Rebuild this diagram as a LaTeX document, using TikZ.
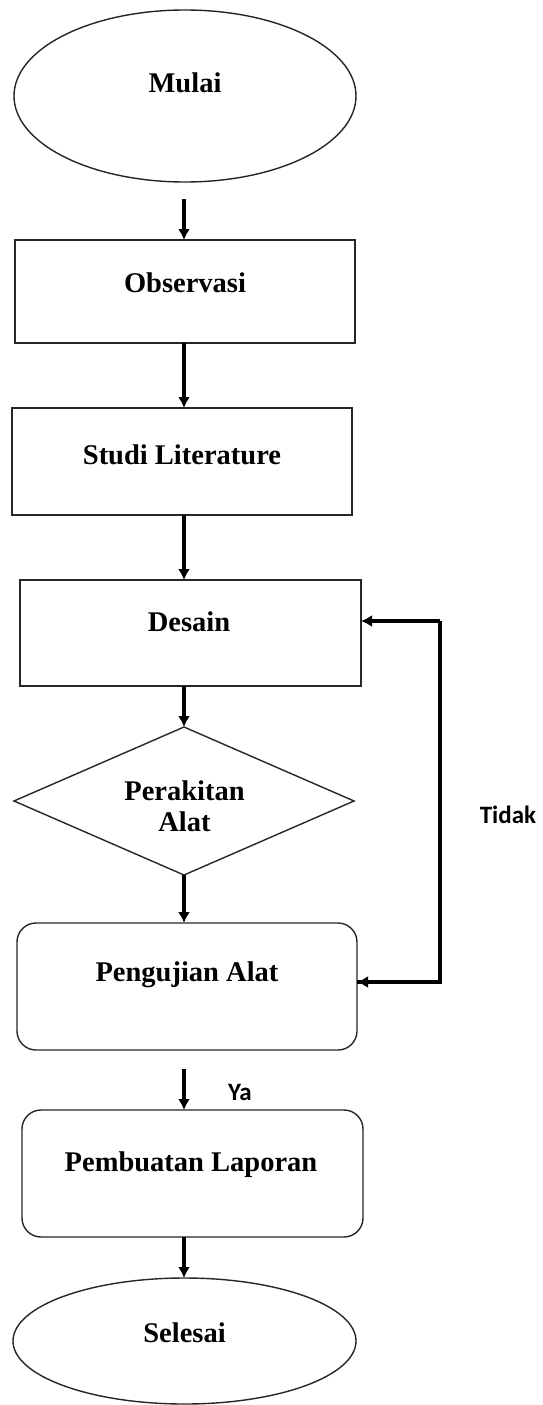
\documentclass[tikz,border=0pt]{standalone}
\usepackage{fontspec}
\setmainfont{Liberation Serif}
\newfontfamily\sansf{Carlito}
\usetikzlibrary{shapes.geometric,arrows.meta}
\begin{document}
\begin{tikzpicture}[x=1pt,y=-1pt,
  shapebox/.style={draw=black!85,line width=1.4pt,inner sep=0pt,outer sep=0pt},
  rectbox/.style={shapebox,rectangle},
  roundbox/.style={shapebox,rectangle,rounded corners=19pt},
  ellbox/.style={shapebox,ellipse},
  diabox/.style={shapebox,diamond},
  boxtext/.style={font=\fontsize{28.5}{31}\selectfont\bfseries,inner sep=0pt,align=center},
  lbl/.style={font=\sansf\fontsize{25}{28}\selectfont\bfseries,inner sep=0pt},
  flow/.style={line width=3.5pt,-{Latex[length=11pt,width=12pt]}}
]
\useasboundingbox (0,0) rectangle (543,1405);
% shapes
\node[ellbox,minimum width=342pt,minimum height=172pt] (mulai) at (185,96) {};
\node[rectbox,minimum width=340pt,minimum height=103pt] (obs) at (185,291.5) {};
\node[rectbox,minimum width=340pt,minimum height=107pt] (studi) at (182,461.5) {};
\node[rectbox,minimum width=341pt,minimum height=106pt] (desain) at (190.5,633) {};
\node[diabox,minimum width=340pt,minimum height=148pt] (rakit) at (184,801) {};
\node[roundbox,minimum width=340pt,minimum height=127pt] (uji) at (187,986.5) {};
\node[roundbox,minimum width=341pt,minimum height=127pt] (lapor) at (192.5,1173.5) {};
\node[ellbox,minimum width=343pt,minimum height=126pt] (selesai) at (184.5,1341) {};
% texts
\node[boxtext] (tmulai) at (185,83) {Mulai};
\node[boxtext] (tobs) at (185,283) {Observasi};
\node[boxtext] (tstudi) at (182,455) {Studi Literature};
\node[boxtext] (tdesain) at (189,622) {Desain};
\node[boxtext] (trakit) at (184.5,806) {Perakitan\\Alat};
\node[boxtext] (tuji) at (187,975) {Pengujian Alat};
\node[boxtext] (tlapor) at (191,1165) {Pembuatan Laporan};
\node[boxtext] (tselesai) at (184.5,1333) {Selesai};
\node[lbl] (tidak) at (508,815) {Tidak};
\node[lbl] (ya) at (240,1092) {Ya};
% free ends
\coordinate (s1) at (184,199);
\coordinate (s2) at (184,1069);
\coordinate (fbR) at (440,982);
\coordinate (fbT) at (440,621);
% connectors
\draw[flow] (s1) -- (s1 |- obs.north);
\draw[flow] (obs.south -| s1) -- (s1 |- studi.north);
\draw[flow] (studi.south -| s1) -- (s1 |- desain.north);
\draw[flow] (desain.south -| s1) -- (rakit.north);
\draw[flow] (rakit.south) -- (s1 |- uji.north);
\draw[flow] (s2) -- (s2 |- lapor.north);
\draw[flow] (lapor.south -| s1) -- (selesai.north -| s1);
\draw[line width=3.5pt] (uji.east |- fbR) -- (fbR) -- (fbT);
\draw[flow] (fbR) -- (uji.east |- fbR);
\draw[flow] (fbT) -- (desain.east |- fbT);
\end{tikzpicture}
\end{document}
